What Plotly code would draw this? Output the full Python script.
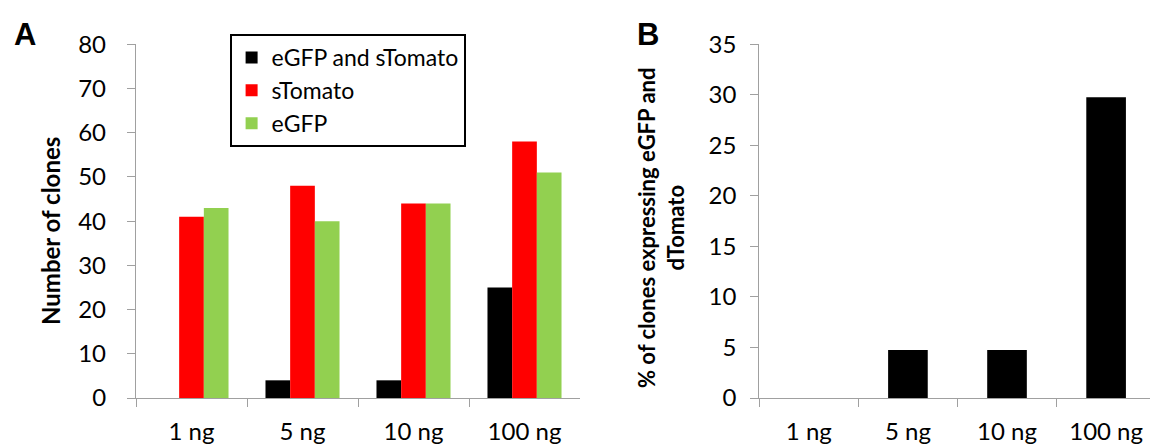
import plotly.graph_objects as go

categories = ["1 ng", "5 ng", "10 ng", "100 ng"]
both_vals = [0, 4, 4, 25]
stomato_vals = [41, 48, 44, 58]
egfp_vals = [43, 40, 44, 51]
pct_both = [0, 4.76, 4.76, 29.76]

series_names = ["eGFP and sTomato", "sTomato", "eGFP"]
series_colors = ["#000000", "#FF0000", "#92D050"]

FONT = "Lato"
AXIS_GRAY = "#A0A0A0"
W, H = 1150, 446

fig = go.Figure()
for name, vals, col in zip(series_names, [both_vals, stomato_vals, egfp_vals], series_colors):
    fig.add_trace(go.Bar(x=categories, y=vals, name=name, marker_color=col,
                         marker_line_width=0, xaxis="x", yaxis="y"))

fig.add_trace(go.Bar(x=categories, y=pct_both, name="% both", marker_color="#000000",
                     marker_line_width=0, width=0.4, showlegend=False,
                     xaxis="x2", yaxis="y2"))

ydom = [1 - 398 / H, 1 - 44.3 / H]
common_x = dict(showline=True, linecolor=AXIS_GRAY, linewidth=1.3, ticks="outside",
                tickson="boundaries", ticklen=8, tickcolor=AXIS_GRAY, tickwidth=1.3,
                showgrid=False, zeroline=False, automargin=False,
                tickfont=dict(family=FONT, size=24, color="#000"), ticklabelstandoff=12)
common_y = dict(showline=True, linecolor=AXIS_GRAY, linewidth=1.3, ticks="outside",
                ticklen=8, tickcolor=AXIS_GRAY, tickwidth=1.3, showgrid=False,
                zeroline=False, automargin=False,
                tickfont=dict(family=FONT, size=24, color="#000"), domain=ydom)

fig.update_layout(
    width=W, height=H,
    margin=dict(l=0, r=0, t=0, b=0),
    paper_bgcolor="white", plot_bgcolor="white",
    barmode="group", bargap=0.333, bargroupgap=0,
    xaxis=dict(domain=[136 / W, 580 / W], range=[-0.5, 3.5], anchor="y", **common_x),
    yaxis=dict(range=[0, 80], dtick=10, anchor="x", ticklabelstandoff=16, **common_y),
    xaxis2=dict(domain=[759.3 / W, 1.0], range=[-0.5, 3.443], anchor="y2", **common_x),
    yaxis2=dict(range=[0, 35], dtick=5, anchor="x2", ticklabelstandoff=9, **common_y),
    legend=dict(x=229.6 / W, y=1 - 34 / H, xanchor="left", yanchor="top",
                bordercolor="#000000", borderwidth=2, bgcolor="white",
                font=dict(family=FONT, size=23, color="#000"),
                tracegroupgap=0, itemsizing="constant"),
    showlegend=True,
)

fig.add_annotation(text="<b>Number of clones</b>", textangle=-90, x=50 / W, y=(1 - 231 / H),
                   xref="paper", yref="paper", xanchor="center", yanchor="middle",
                   showarrow=False, font=dict(family=FONT, size=24, color="#000"))
fig.add_annotation(text="<b>% of clones expressing eGFP and<br>dTomato</b>", textangle=-90,
                   x=661 / W, y=(1 - 228 / H), xref="paper", yref="paper",
                   xanchor="center", yanchor="middle", showarrow=False,
                   font=dict(family=FONT, size=22, color="#000"))
fig.add_annotation(text="<b>A</b>", x=25 / W, y=1 - 34 / H, xref="paper", yref="paper",
                   xanchor="center", yanchor="middle", showarrow=False,
                   font=dict(family="Liberation Sans", size=31, color="#000"))
fig.add_annotation(text="<b>B</b>", x=648 / W, y=1 - 34 / H, xref="paper", yref="paper",
                   xanchor="center", yanchor="middle", showarrow=False,
                   font=dict(family="Liberation Sans", size=31, color="#000"))

fig.write_html("out.html", config={"displayModeBar": False},
               post_script="document.body.style.margin='0';document.body.style.overflow='hidden';")
